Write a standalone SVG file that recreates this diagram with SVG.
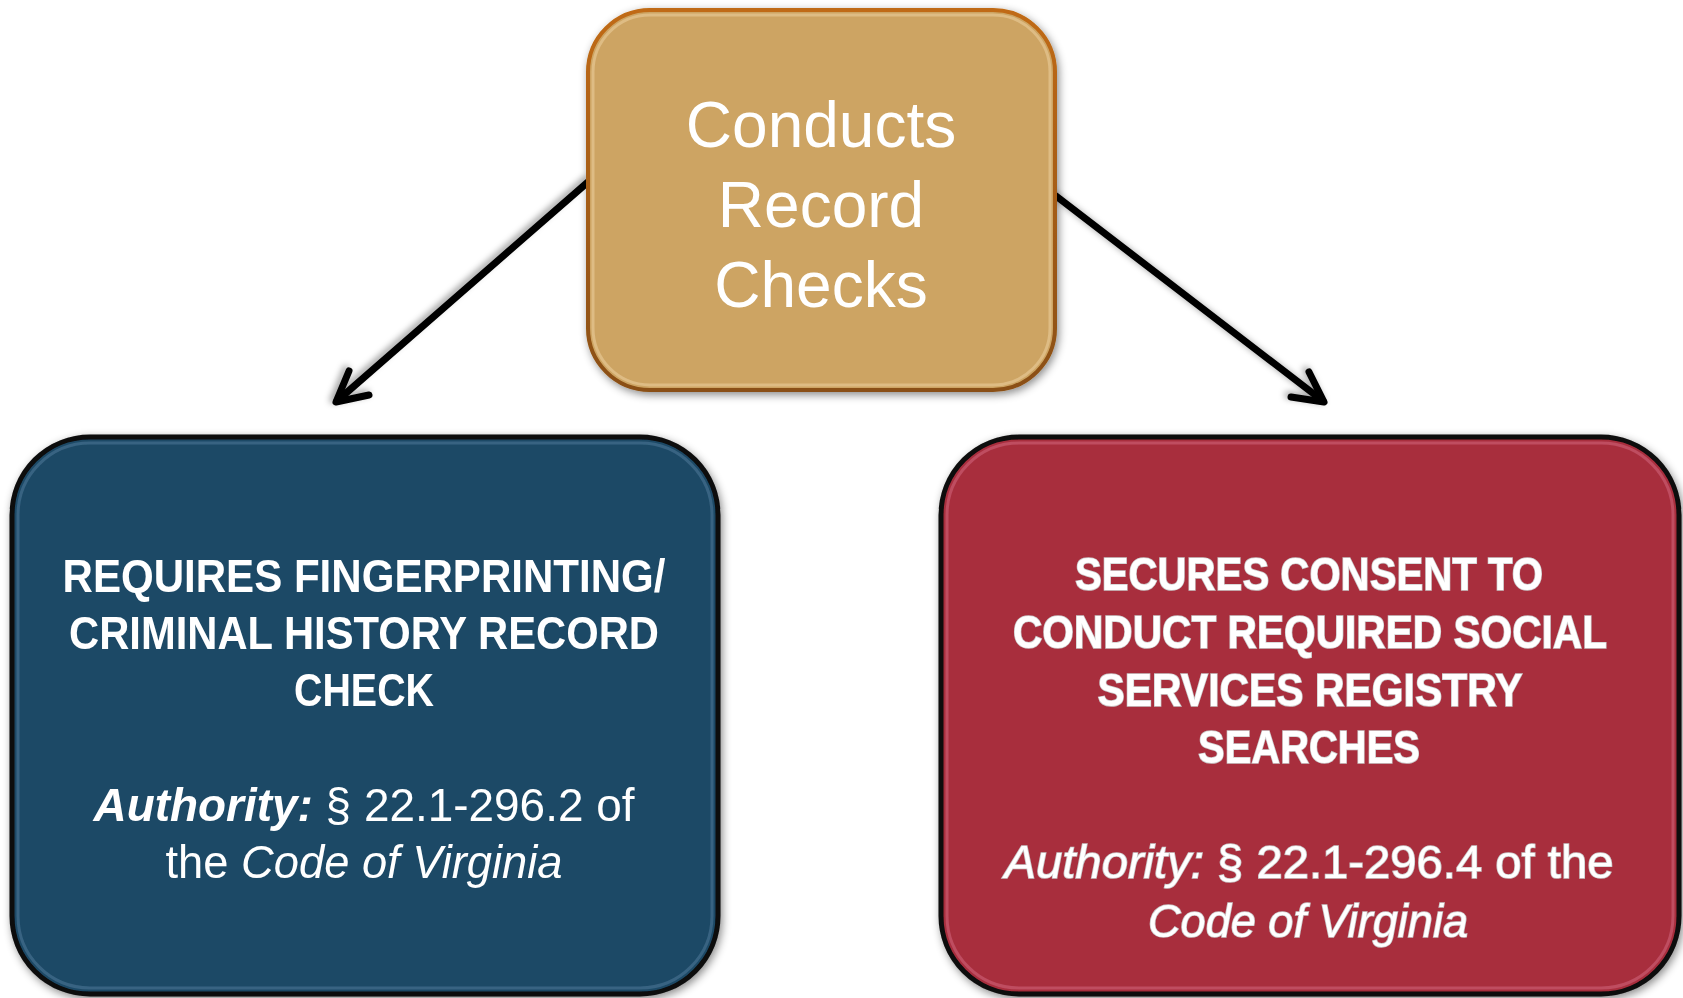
<svg xmlns="http://www.w3.org/2000/svg" width="1683" height="998" viewBox="0 0 1683 998">
<style>
.hdr{font-family:"Liberation Sans",Arial,sans-serif;fill:#fff;text-anchor:middle}
.top{font-size:64px}
.cap{font-size:46px;font-weight:bold}
.auth{font-size:46px}
.red text{stroke:#c9c9c9;stroke-width:1.6px;paint-order:stroke}
.conn{stroke:#000;stroke-width:7;fill:none;stroke-linecap:round;stroke-linejoin:round}
</style>
<defs>
<filter id="sh" x="-10%" y="-10%" width="120%" height="120%">
<feDropShadow dx="2" dy="3" stdDeviation="4" flood-color="#000" flood-opacity="0.45"/>
</filter>
<filter id="ash" x="-20%" y="-20%" width="140%" height="140%">
<feDropShadow dx="-3" dy="-2" stdDeviation="3" flood-color="#000" flood-opacity="0.35"/>
</filter>
<linearGradient id="tanb" x1="0" y1="0" x2="0" y2="1">
<stop offset="0" stop-color="#c06a12"/>
<stop offset="1" stop-color="#8a4f12"/>
</linearGradient>
</defs>
<g id="connectors" filter="url(#ash)">
<path class="conn" d="M588 182 L337 401"/>
<path class="conn" d="M349 371 L336 402 L369 395"/>
<path class="conn" d="M1056 196 L1323 401"/>
<path class="conn" d="M1309 372 L1324 402 L1291 397"/>
</g>
<g id="node-top" filter="url(#sh)">
<rect x="588" y="10" width="467" height="380" rx="62" fill="#cda463" stroke="url(#tanb)" stroke-width="4"/>
<rect x="593" y="15" width="457" height="370" rx="57" fill="none" stroke="#e2c28c" stroke-width="3" opacity="0.8"/>
<text class="hdr top" x="821" y="147">Conducts</text>
<text class="hdr top" x="821" y="227">Record</text>
<text class="hdr top" x="821" y="307">Checks</text>
</g>
<g id="node-left" filter="url(#sh)">
<rect x="12" y="437" width="706" height="557" rx="78" fill="#1e4966" stroke="#0a0a0a" stroke-width="5"/>
<rect x="18" y="443" width="694" height="545" rx="72" fill="none" stroke="#3f6c8a" stroke-width="3" opacity="0.8"/>
<text class="hdr cap" x="364" y="592" textLength="603" lengthAdjust="spacingAndGlyphs">REQUIRES FINGERPRINTING/</text>
<text class="hdr cap" x="364" y="649" textLength="590" lengthAdjust="spacingAndGlyphs">CRIMINAL HISTORY RECORD</text>
<text class="hdr cap" x="364" y="706" textLength="140" lengthAdjust="spacingAndGlyphs">CHECK</text>
<text class="hdr auth" x="364" y="821" textLength="541" lengthAdjust="spacingAndGlyphs"><tspan font-weight="bold" font-style="italic">Authority:</tspan>  § 22.1-296.2 of</text>
<text class="hdr auth" x="364" y="878" textLength="397" lengthAdjust="spacingAndGlyphs">the <tspan font-style="italic">Code of Virginia</tspan></text>
</g>
<g id="node-right" class="red" filter="url(#sh)">
<rect x="941" y="437" width="738" height="557" rx="78" fill="#a82e3e" stroke="#0a0a0a" stroke-width="5"/>
<rect x="947" y="443" width="726" height="545" rx="72" fill="none" stroke="#c4556a" stroke-width="3" opacity="0.8"/>
<text class="hdr cap" x="1309" y="590" textLength="468" lengthAdjust="spacingAndGlyphs">SECURES CONSENT TO</text>
<text class="hdr cap" x="1310" y="648" textLength="594" lengthAdjust="spacingAndGlyphs">CONDUCT REQUIRED SOCIAL</text>
<text class="hdr cap" x="1310" y="706" textLength="425" lengthAdjust="spacingAndGlyphs">SERVICES REGISTRY</text>
<text class="hdr cap" x="1309" y="763" textLength="222" lengthAdjust="spacingAndGlyphs">SEARCHES</text>
<text class="hdr auth" x="1309" y="878" textLength="609" lengthAdjust="spacingAndGlyphs"><tspan font-style="italic">Authority:</tspan> § 22.1-296.4 of the</text>
<text class="hdr auth" x="1308" y="937" textLength="320" lengthAdjust="spacingAndGlyphs" font-style="italic">Code of Virginia</text>
</g>
</svg>
